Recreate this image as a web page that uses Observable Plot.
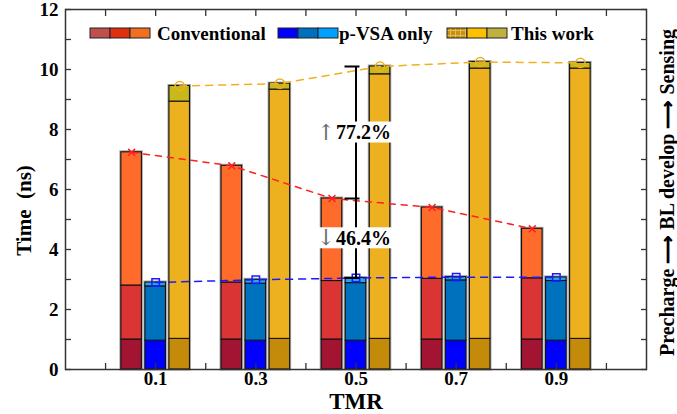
<!DOCTYPE html>
<html><head><meta charset="utf-8">
<script src="https://cdn.jsdelivr.net/npm/d3@7"></script>
<script src="https://cdn.jsdelivr.net/npm/@observablehq/plot@0.6"></script>
<style>
body{margin:0;background:#fff;}
#chart{position:relative;width:677px;height:414px;}
</style></head><body><div id="chart"></div>
<script>
// ---- data ----
const tmr = [0.1, 0.3, 0.5, 0.7, 0.9];
const tmrLabels = ["0.1", "0.3", "0.5", "0.7", "0.9"];
const seriesNames = ["Conventional", "p-VSA only", "This work"];
const phaseNames = ["Precharge", "BL develop", "Sensing"];

// cumulative phase end times (ns)
const convPrechargeEnd = [1.00, 1.00, 1.00, 1.00, 1.00];
const convBLEnd        = [2.80, 2.90, 2.95, 3.02, 3.04];
const convTotal        = [7.24, 6.79, 5.70, 5.40, 4.69];

const pvsaPrechargeEnd = [0.96, 0.96, 0.96, 0.96, 0.96];
const pvsaBLEnd        = [2.77, 2.86, 2.88, 2.97, 2.95];
const pvsaTotal        = [2.90, 2.99, 3.05, 3.08, 3.07];

const thisPrechargeEnd = [1.02, 1.02, 1.02, 1.02, 1.02];
const thisBLEnd        = [8.93, 9.33, 9.84, 10.03, 10.03];
const thisTotal        = [9.45, 9.53, 10.10, 10.25, 10.22];

const yTickLabels = [0, 2, 4, 6, 8, 10, 12];
const yTicksAll = [0, 1, 2, 3, 4, 5, 6, 7, 8, 9, 10, 11, 12];
const xTicksAll = [0, 0.1, 0.2, 0.3, 0.4, 0.5, 0.6, 0.7, 0.8, 0.9, 1.0];

const annotIndex = 2; // TMR = 0.5
const pctUp = "77.2%";
const pctDown = "46.4%";

// ---- styling ----
const barColors = [
  ["#A31432", "#DB3434", "#FF6B2B"],
  ["#0000FF", "#0072BD", "#22A7F0"],
  ["#C48A0A", "#EDB11F", "#C9B81A"]
];
const legendColors = [
  ["#C0504D", "#E03010", "#F07020"],
  ["#0000FF", "#0070C0", "#00A0FF"],
  ["url(#hatchTW)", "#FFC000", "#C0B040"]
];
const lineColors = ["#FF1F1F", "#1A1AFF", "#F0B020"];
const offsets = [-0.048, 0, 0.048];
const halfW = 0.0205;

const ends = [
  [convPrechargeEnd, convBLEnd, convTotal],
  [pvsaPrechargeEnd, pvsaBLEnd, pvsaTotal],
  [thisPrechargeEnd, thisBLEnd, thisTotal]
];

const segs = [];
const outer = [];
const tops = [];
ends.forEach((arrs, s) => {
  tmr.forEach((t, i) => {
    const xc = t + offsets[s];
    let prev = 0;
    arrs.forEach((arr, p) => {
      segs.push({x1: xc - halfW, x2: xc + halfW, y1: prev, y2: arr[i], fill: barColors[s][p]});
      prev = arr[i];
    });
    outer.push({x1: xc - halfW, x2: xc + halfW, y1: 0, y2: arrs[2][i]});
    tops.push({series: s, x: xc, y: arrs[2][i]});
  });
});

const ax = tmr[annotIndex] + offsets[1];
const aTop = thisTotal[annotIndex], aMid = convTotal[annotIndex], aBot = pvsaTotal[annotIndex];
const pctRows = [
  {arrow: "↑", text: pctUp, y: (aTop + aMid) / 2},
  {arrow: "↓", text: pctDown, y: (aMid + aBot) / 2}
];

const font = "'Liberation Serif','Times New Roman',Times,serif";

const plot = Plot.plot({
  width: 677, height: 414,
  marginLeft: 65, marginRight: 31, marginTop: 9, marginBottom: 45,
  x: {domain: [-0.08, 1.08], label: null},
  y: {domain: [0, 12], label: null},
  color: {type: "identity"},
  style: {fontFamily: font, fontWeight: "bold", fontSize: "18px", background: "white", color: "black", overflow: "visible"},
  marks: [
    Plot.rect(outer, {x1: "x1", x2: "x2", y1: "y1", y2: "y2", fill: "none", stroke: "#8a8a8a", strokeWidth: 3, strokeOpacity: 0.75}),
    Plot.rect(segs, {x1: "x1", x2: "x2", y1: "y1", y2: "y2", fill: "fill", stroke: "#111", strokeWidth: 1.1}),
    Plot.line(tops.filter(d => d.series === 0), {x: "x", y: "y", stroke: lineColors[0], strokeWidth: 1.5, strokeDasharray: "6,6"}),
    Plot.line(tops.filter(d => d.series === 1), {x: "x", y: "y", stroke: lineColors[1], strokeWidth: 1.5, strokeDasharray: "7,6"}),
    Plot.line(tops.filter(d => d.series === 2), {x: "x", y: "y", stroke: lineColors[2], strokeWidth: 1.5, strokeDasharray: "7,6"}),
    Plot.dot(tops.filter(d => d.series === 0), {x: "x", y: "y", symbol: "times", r: 3.2, stroke: lineColors[0], strokeWidth: 1.5}),
    Plot.dot(tops.filter(d => d.series === 1), {x: "x", y: "y", symbol: "square", r: 4.2, stroke: lineColors[1], fill: "none", strokeWidth: 1.5}),
    Plot.dot(tops.filter(d => d.series === 2), {x: "x", y: "y", symbol: "circle", r: 4.6, stroke: lineColors[2], fill: "none", strokeWidth: 1.5}),
    // annotation
    Plot.ruleX([ax], {y1: aBot, y2: aTop, stroke: "black", strokeWidth: 2}),
    Plot.ruleY([aTop, aMid, aBot], {x1: ax - 0.022, x2: ax + 0.008, stroke: "black", strokeWidth: 2}),
    Plot.text(pctRows, {x: ax, y: "y", text: "arrow", dx: -30, fill: "#6a6a6a", fontSize: 22, fontWeight: "normal", fontFamily: "'DejaVu Serif', serif"}),
    Plot.text(pctRows, {x: ax, y: "y", text: "text", dx: -20, textAnchor: "start", fill: "black", fontSize: 20}),
    // axes (ticks inward)
    Plot.axisY(yTicksAll, {anchor: "left", tickSize: -6, tickFormat: () => "", label: null, stroke: "#333", strokeWidth: 1.3}),
    Plot.axisY(yTicksAll, {anchor: "right", tickSize: -6, tickFormat: () => "", label: null, stroke: "#333", strokeWidth: 1.3}),
    Plot.axisX(xTicksAll, {anchor: "bottom", tickSize: -6, tickFormat: () => "", label: null, stroke: "#333", strokeWidth: 1.3}),
    Plot.axisX(xTicksAll, {anchor: "top", tickSize: -6, tickFormat: () => "", label: null, stroke: "#333", strokeWidth: 1.3}),
    Plot.axisY(yTickLabels, {anchor: "left", tickSize: 0, tickPadding: 7, label: null, fontSize: 19, fontWeight: "bold", fill: "black"}),
    Plot.axisX(tmr, {anchor: "bottom", tickSize: 0, tickPadding: 2, label: null, tickFormat: (d, i) => tmrLabels[i], fontSize: 19, fontWeight: "bold", fill: "black"}),
    Plot.frame({stroke: "#333", strokeWidth: 1.5}),
    // titles
    Plot.text(["Time  (ns)"], {frameAnchor: "left", textAnchor: "middle", lineAnchor: "middle", dx: -41, dy: 21, rotate: -90, fontSize: 21, fontWeight: "bold", fill: "black"}),
    Plot.text(["TMR"], {frameAnchor: "bottom", textAnchor: "middle", lineAnchor: "middle", dy: 32, fontSize: 23, fontWeight: "bold", fill: "black"}),
    Plot.text([phaseNames.join(" ⟶ ")], {frameAnchor: "right", textAnchor: "middle", lineAnchor: "middle", dx: 21, dy: 3, rotate: -90, fontSize: 20, fontWeight: "bold", fill: "black"})
  ]
});

document.getElementById("chart").appendChild(plot);

const svg = d3.select(plot);
const defs = svg.append("defs");
const pat = defs.append("pattern").attr("id", "hatchTW").attr("width", 5).attr("height", 5).attr("patternUnits", "userSpaceOnUse");
pat.append("rect").attr("width", 5).attr("height", 5).attr("fill", "#C8900E");
pat.append("path").attr("d", "M0 0.5H5M0.5 0V5").attr("stroke", "#E2BC58").attr("stroke-width", 1);

// white boxes behind percentage labels
try {
  const sb = plot.getBoundingClientRect();
  const allTexts = Array.from(plot.querySelectorAll("text"));
  const arrowTexts = pctRows.map(r => allTexts.find(t => t.textContent === r.arrow));
  const numTexts = pctRows.map(r => allTexts.find(t => t.textContent === r.text));
  const arrowG = arrowTexts[0].parentNode;
  const boxG = document.createElementNS("http://www.w3.org/2000/svg", "g");
  arrowG.parentNode.insertBefore(boxG, arrowG);
  arrowTexts.forEach((t, i) => {
    const a = t.getBoundingClientRect(), b = numTexts[i].getBoundingClientRect();
    const x0 = Math.min(a.left, b.left) - sb.left - 3, x1 = Math.max(a.right, b.right) - sb.left + 3;
    const y0 = Math.min(a.top, b.top) - sb.top + 2, y1 = Math.max(a.bottom, b.bottom) - sb.top - 2;
    d3.select(boxG).append("rect").attr("x", x0).attr("y", y0).attr("width", x1 - x0).attr("height", y1 - y0).attr("fill", "white");
  });
} catch (e) { console.log(e); }

// legend
const legendPatchX = [90, 278, 447];
const legendTextX = [157, 339, 511];
const lg = svg.append("g").attr("font-family", font).attr("font-weight", "bold").attr("font-size", 19).attr("text-anchor", "start");
seriesNames.forEach((name, s) => {
  legendColors[s].forEach((c, p) => {
    lg.append("rect").attr("x", legendPatchX[s] + p * 20).attr("y", 28).attr("width", 20).attr("height", 10)
      .attr("fill", c).attr("stroke", "#222").attr("stroke-width", 1);
  });
  lg.append("text").attr("x", legendTextX[s]).attr("y", 39.5).attr("fill", "black").text(name);
});
</script></body></html>
